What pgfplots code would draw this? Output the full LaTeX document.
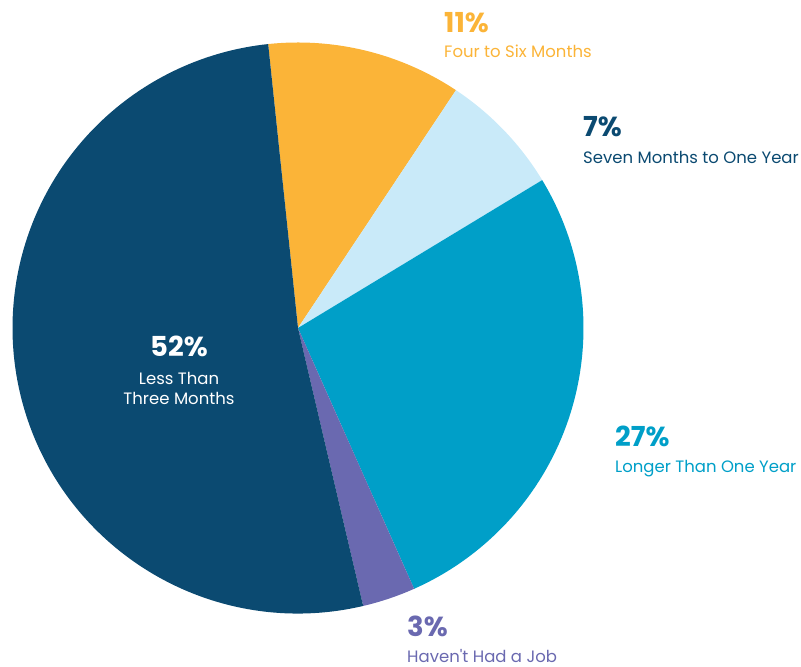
\documentclass[border=0pt]{standalone}
\usepackage{pgfplots}
\usepackage{pgfplotstable}
\pgfplotsset{compat=1.18}
\usepackage{fontspec}
\setmainfont{Poppins}
\definecolor{cDark}{HTML}{0B4A71}
\definecolor{cOrange}{HTML}{FBB438}
\definecolor{cLight}{HTML}{C9EAF9}
\definecolor{cTeal}{HTML}{009FC8}
\definecolor{cPurple}{HTML}{6A69B0}
\pgfplotstableread{
value color
11 cOrange
7 cLight
27 cTeal
3 cPurple
52 cDark
}\piedata
\newcommand\pct{\fontsize{27.5}{32}\selectfont\bfseries}
\newcommand\lbl{\fontsize{16.5}{20}\selectfont}
\begin{document}
\begin{tikzpicture}
\begin{axis}[
  width=801pt, height=667pt, scale only axis,
  xmin=0, xmax=801, ymin=0, ymax=667,
  hide axis, clip=false,
]
\coordinate (ll) at (axis cs:0,0);
\coordinate (ur) at (axis cs:801,667);
\pgfplotstablegetrowsof{\piedata}
\pgfmathtruncatemacro\lastrow{\pgfplotsretval-1}
\gdef\curang{96}
\pgfplotsinvokeforeach{0,...,\lastrow}{%
  \pgfplotstablegetelem{#1}{value}\of{\piedata}\let\val\pgfplotsretval
  \pgfplotstablegetelem{#1}{color}\of{\piedata}\let\col\pgfplotsretval
  \pgfmathsetmacro\endang{\curang-3.6*\val}
  \edef\temp{\noexpand\fill[\col] (axis cs:298,339) -- ++(\curang:285.5pt) arc[start angle=\curang, end angle=\endang, radius=285.5pt] -- cycle;}
  \temp
  \xdef\curang{\endang}
}
% labels
\node[anchor=base, text=white, font=\pct] at (axis cs:179,310) {52\%};
\node[anchor=base, text=white, font=\lbl] at (axis cs:179,282) {Less Than};
\node[anchor=base, text=white, font=\lbl] at (axis cs:179,262) {Three Months};
\node[anchor=base west, inner sep=0pt, text=cOrange, font=\pct] at (axis cs:444,634) {11\%};
\node[anchor=base west, inner sep=0pt, text=cOrange, font=\lbl] at (axis cs:444,609) {Four to Six Months};
\node[anchor=base west, inner sep=0pt, text=cDark, font=\pct] at (axis cs:583,530) {7\%};
\node[anchor=base west, inner sep=0pt, text=cDark, font=\lbl] at (axis cs:583,503) {Seven Months to One Year};
\node[anchor=base west, inner sep=0pt, text=cTeal, font=\pct] at (axis cs:615,220) {27\%};
\node[anchor=base west, inner sep=0pt, text=cTeal, font=\lbl] at (axis cs:615,194) {Longer Than One Year};
\node[anchor=base west, inner sep=0pt, text=cPurple, font=\pct] at (axis cs:407,30) {3\%};
\node[anchor=base west, inner sep=0pt, text=cPurple, font=\lbl] at (axis cs:407,5) {Haven\textquotesingle t Had a Job};
\end{axis}
\pgfresetboundingbox
\path (ll) rectangle (ur);
\end{tikzpicture}
\end{document}
